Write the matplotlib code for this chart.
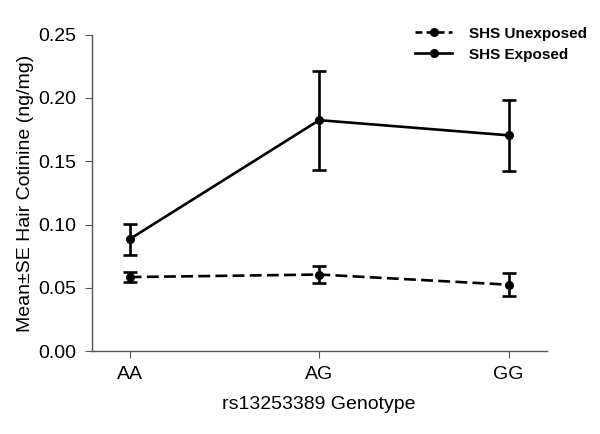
import matplotlib.pyplot as plt
from matplotlib.lines import Line2D

plt.rcParams["font.family"] = ["Liberation Sans", "DejaVu Sans"]

genotypes = ["AA", "AG", "GG"]

unexposed_mean = [0.0585, 0.0605, 0.0525]
unexposed_se = [0.0040, 0.0068, 0.0090]

exposed_mean = [0.0885, 0.1825, 0.1705]
exposed_se = [0.0122, 0.0390, 0.0280]

fig = plt.figure(figsize=(6, 4.34), dpi=100)
ax = fig.add_axes([0.153, 0.191, 0.758, 0.729])

x = list(range(len(genotypes)))
lw = 1.9
dash = (4.5, 2.0)

ax.errorbar(x, unexposed_mean, yerr=unexposed_se, color="black", linestyle="--",
            dashes=dash, marker="o", markersize=5.5, linewidth=lw,
            elinewidth=lw, capsize=5, capthick=lw)
ax.errorbar(x, exposed_mean, yerr=exposed_se, color="black", linestyle="-",
            marker="o", markersize=5.5, linewidth=lw,
            elinewidth=lw, capsize=5, capthick=lw)

ax.set_xlim(-0.2, 2.2)
ax.set_ylim(0, 0.25)
ax.set_xticks(x)
ax.set_xticklabels(genotypes)
ax.set_yticks([0.0, 0.05, 0.10, 0.15, 0.20, 0.25])
ax.set_yticklabels(["0.00", "0.05", "0.10", "0.15", "0.20", "0.25"])

for side in ["top", "right"]:
    ax.spines[side].set_visible(False)
for side in ["left", "bottom"]:
    ax.spines[side].set_color("#555555")
    ax.spines[side].set_linewidth(1.0)
ax.tick_params(axis="both", direction="out", length=5, color="#555555",
               labelsize=14, pad=6)

ax.set_xlabel("rs13253389 Genotype", fontsize=14, labelpad=9)
ax.set_ylabel("Mean±SE Hair Cotinine (ng/mg)", fontsize=14, labelpad=3)

# legend handles without error bars, shorter dashes so the pattern reads as - -o- -
handles = [
    Line2D([], [], color="black", linestyle="--", dashes=(2.6, 1.6), linewidth=lw,
           marker="o", markersize=5.5),
    Line2D([], [], color="black", linestyle="-", linewidth=lw,
           marker="o", markersize=5.5),
]
fig.legend(handles, ["SHS Unexposed", "SHS Exposed"], loc="upper right",
           bbox_to_anchor=(1.001, 0.97), frameon=False,
           prop={"weight": "bold", "size": 11}, handlelength=2.4,
           handletextpad=1.1, labelspacing=0.45)

fig.savefig("out.png", dpi=100)
